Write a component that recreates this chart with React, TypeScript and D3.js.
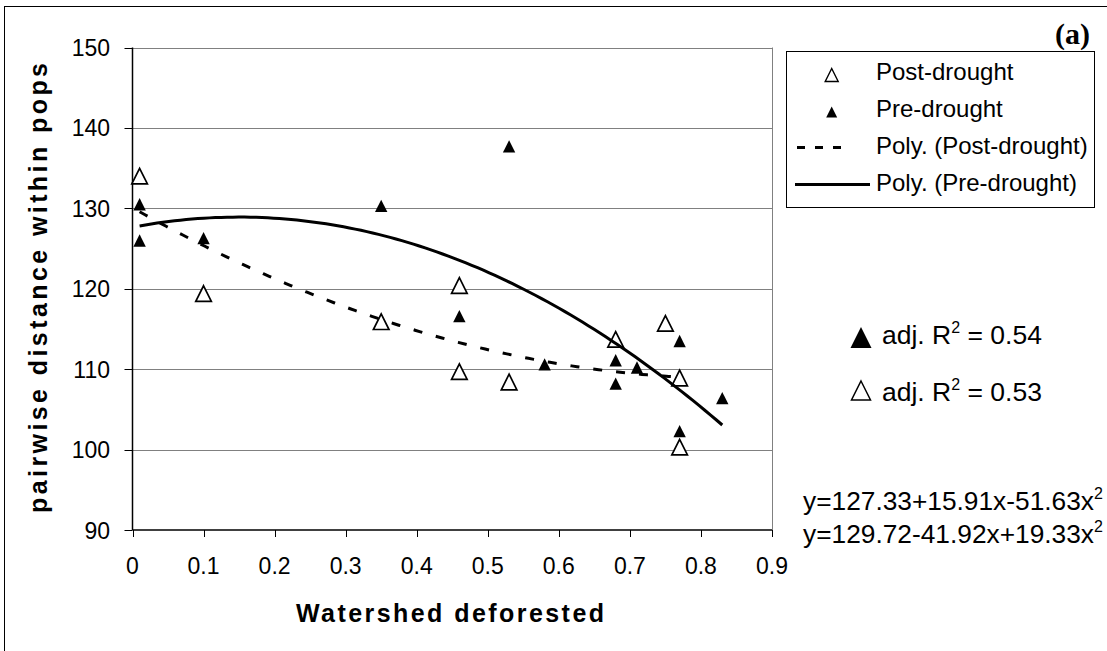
import React from "react";
import * as d3 from "d3";

const W = 1107;
const H = 651;

// Post-drought (open triangles)
const postX = [0.01, 0.1, 0.35, 0.46, 0.46, 0.53, 0.68, 0.75, 0.77, 0.77];
const postY = [134.0, 119.4, 115.9, 120.4, 109.7, 108.4, 113.7, 115.7, 108.9, 100.3];
// Pre-drought (filled triangles)
const preX = [0.01, 0.01, 0.1, 0.35, 0.46, 0.53, 0.58, 0.68, 0.68, 0.71, 0.77, 0.77, 0.83];
const preY = [130.5, 126.0, 126.3, 130.3, 116.6, 137.7, 110.6, 111.1, 108.2, 110.2, 113.5, 102.3, 106.4];

const xTicks = [0, 0.1, 0.2, 0.3, 0.4, 0.5, 0.6, 0.7, 0.8, 0.9];
const yTicks = [90, 100, 110, 120, 130, 140, 150];
const legendLabels = ["Post-drought", "Pre-drought", "Poly. (Post-drought)", "Poly. (Pre-drought)"];
const r2Labels = ["0.54", "0.53"];
const equations = ["y=127.33+15.91x-51.63x", "y=129.72-41.92x+19.33x"];

// least-squares quadratic fit (as the spreadsheet trendline does)
function quadFit(xs: number[], ys: number[]) {
  const S = [0, 0, 0, 0, 0];
  const T = [0, 0, 0];
  xs.forEach((x, i) => {
    for (let k = 0; k < 5; k++) S[k] += Math.pow(x, k);
    for (let k = 0; k < 3; k++) T[k] += Math.pow(x, k) * ys[i];
  });
  const A = [
    [S[0], S[1], S[2], T[0]],
    [S[1], S[2], S[3], T[1]],
    [S[2], S[3], S[4], T[2]],
  ];
  for (let c = 0; c < 3; c++) {
    for (let r = c + 1; r < 3; r++) {
      const f = A[r][c] / A[c][c];
      for (let k = c; k < 4; k++) A[r][k] -= f * A[c][k];
    }
  }
  const b = [0, 0, 0];
  for (let r = 2; r >= 0; r--) {
    let s = A[r][3];
    for (let k = r + 1; k < 3; k++) s -= A[r][k] * b[k];
    b[r] = s / A[r][r];
  }
  return (x: number) => b[0] + b[1] * x + b[2] * x * x;
}

const FONT = "'Liberation Sans', Arial, sans-serif";

export default function App() {
  const x = d3.scaleLinear().domain([0, 0.9]).range([132.5, 772]);
  const y = d3.scaleLinear().domain([90, 150]).range([530, 47.5]);

  const postFit = quadFit(postX, postY);
  const preFit = quadFit(preX, preY);
  const sample = (f: (v: number) => number, lo: number, hi: number) =>
    d3.range(0, 101).map((i) => {
      const v = lo + ((hi - lo) * i) / 100;
      return [x(v), y(f(v))] as [number, number];
    });
  const line = d3.line();
  const postPath = line(sample(postFit, d3.min(postX)!, d3.max(postX)!));
  const prePath = line(sample(preFit, d3.min(preX)!, d3.max(preX)!));

  const openTri = (s: number) => `M0,${-s}L${s},${s}L${-s},${s}Z`;

  return (
    <svg width={W} height={H} style={{ position: "absolute", left: 0, top: 0, background: "#fff" }} fontFamily={FONT}>
      <rect x={0} y={0} width={W} height={H} fill="#fff" />
      <rect x={4.5} y={6.5} width={1300} height={800} fill="none" stroke="#000" strokeWidth={1} />

      {/* gridlines */}
      {yTicks.filter((t) => t !== 90).map((t) => (
        <line key={t} x1={x(0)} x2={x(0.9)} y1={Math.round(y(t)) + 0.5} y2={Math.round(y(t)) + 0.5} stroke="#808080" strokeWidth={1} />
      ))}
      <line x1={Math.round(x(0.9)) + 0.5} x2={Math.round(x(0.9)) + 0.5} y1={y(150)} y2={y(90)} stroke="#808080" strokeWidth={1} />

      {/* axes */}
      <line x1={x(0)} x2={x(0)} y1={y(150)} y2={y(90)} stroke="#000" strokeWidth={1.5} />
      <line x1={x(0)} x2={x(0.9)} y1={y(90)} y2={y(90)} stroke="#000" strokeWidth={1.5} />
      {yTicks.map((t) => (
        <g key={t}>
          <line x1={x(0) - 8} x2={x(0)} y1={Math.round(y(t)) + 0.5} y2={Math.round(y(t)) + 0.5} stroke="#000" strokeWidth={1} />
          <text x={110} y={y(t) + 8.5} textAnchor="end" fontSize={23}>{t}</text>
        </g>
      ))}
      {xTicks.map((t) => (
        <g key={t}>
          <line x1={Math.round(x(t)) + 0.5} x2={Math.round(x(t)) + 0.5} y1={y(90)} y2={y(90) + 7} stroke="#000" strokeWidth={1} />
          <text x={x(t)} y={574} textAnchor="middle" fontSize={23}>{t === 0 ? "0" : d3.format(".1f")(t)}</text>
        </g>
      ))}

      {/* axis titles */}
      <text x={450} y={622} textAnchor="middle" fontSize={25} fontWeight="bold" textLength={308} lengthAdjust="spacing">Watershed deforested</text>
      <text transform="translate(47,288) rotate(-90)" textAnchor="middle" fontSize={25} fontWeight="bold" textLength={450} lengthAdjust="spacing">pairwise distance within pops</text>

      {/* markers */}
      {postX.map((v, i) => (
        <path key={"po" + i} d={openTri(7.8)} transform={`translate(${x(v)},${y(postY[i])})`} fill="#fff" stroke="#000" strokeWidth={1.7} />
      ))}
      {preX.map((v, i) => (
        <path key={"pr" + i} d={openTri(6.2)} transform={`translate(${x(v)},${y(preY[i])})`} fill="#000" stroke="none" />
      ))}

      {/* trendlines */}
      <path d={postPath!} fill="none" stroke="#000" strokeWidth={3} strokeDasharray="9 14" />
      <path d={prePath!} fill="none" stroke="#000" strokeWidth={3} />

      {/* legend */}
      <rect x={786.5} y={51.5} width={308} height={156} fill="#fff" stroke="#000" strokeWidth={1} />
      <path d={openTri(6.5)} transform="translate(831.7,75)" fill="#fff" stroke="#000" strokeWidth={1.4} />
      <path d={openTri(5.5)} transform="translate(831.7,112)" fill="#000" />
      <line x1={797} x2={851} y1={147.5} y2={147.5} stroke="#000" strokeWidth={3} strokeDasharray="8 10" />
      <line x1={795} x2={870} y1={184.5} y2={184.5} stroke="#000" strokeWidth={3} />
      {legendLabels.map((l, i) => (
        <text key={l} x={876} y={80 + i * 37} fontSize={24}>{l}</text>
      ))}

      {/* (a) */}
      <text x={1090} y={44} textAnchor="end" fontSize={30} fontWeight="bold" fontFamily="'Liberation Serif', 'Times New Roman', serif">(a)</text>

      {/* R2 annotations */}
      <path d={openTri(10.5)} transform="translate(861,337.5)" fill="#000" />
      <path d={openTri(9.5)} transform="translate(861,390.5)" fill="#fff" stroke="#000" strokeWidth={1.5} />
      {r2Labels.map((r, i) => (
        <text key={r} x={882} y={344 + i * 56.5} fontSize={26.5}>
          adj. R<tspan fontSize={16} dy={-11}>2</tspan><tspan dy={11}> = {r}</tspan>
        </text>
      ))}

      {/* equations */}
      {equations.map((e, i) => (
        <text key={e} x={803} y={510 + i * 33} fontSize={26.3}>
          {e}<tspan fontSize={16} dy={-11}>2</tspan>
        </text>
      ))}
    </svg>
  );
}
